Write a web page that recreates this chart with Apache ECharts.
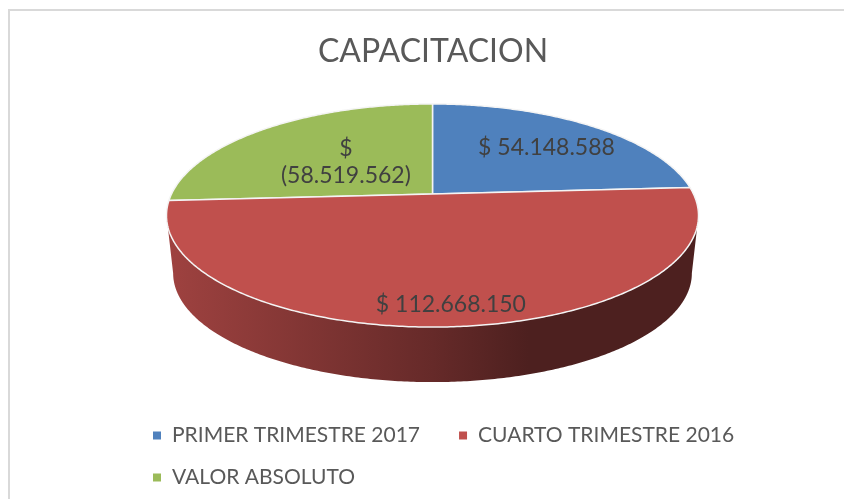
<!DOCTYPE html>
<html>
<head>
<meta charset="utf-8">
<style>
  html, body { margin: 0; padding: 0; background: #fff; }
  #chart { width: 844px; height: 499px; }
</style>
<script src="https://cdn.jsdelivr.net/npm/echarts@6/dist/echarts.min.js"></script>
</head>
<body>
<div id="chart"></div>
<script>
const categories = ['PRIMER TRIMESTRE 2017', 'CUARTO TRIMESTRE 2016', 'VALOR ABSOLUTO']
const values = [54148588, 112668150, -58519562]
const colors = ['#4F81BD', '#C0504D', '#9BBB59']

const chart = echarts.init(document.getElementById('chart'))

const FONT = 'Lato, "Open Sans", sans-serif'
const total = values.reduce((sum, v) => sum + Math.abs(v), 0)

// 3D pie: perspective projection of a disc, angles run clockwise from 12 o'clock
const cx = 432.5
const apexY = 194
const scaleX = 261
const scaleY = 107.4
const tilt = 0.193
const midY = 215.5
const depth = 57.8
const bottomScale = 0.975

// where each label sits inside its slice
const labelRadius = [0.7, 0.86, 0.485]
const labelShiftY = [3, 0, 2]

const project = (t, r) => {
  const x = r * Math.sin(t)
  const y = -r * Math.cos(t)
  const w = 1 - tilt * y
  return [cx + scaleX * x / w, apexY + scaleY * y / w]
}

const projectBottom = (t) => {
  const p = project(t, 1)
  return [cx + (p[0] - cx) * bottomScale, midY + (p[1] - midY) * bottomScale + depth]
}

const arcPoints = (from, to, fn) => {
  const steps = Math.max(2, Math.ceil((to - from) / 0.01))
  const pts = []
  for (let i = 0; i <= steps; i++) {
    pts.push(fn(from + (to - from) * i / steps))
  }
  return pts
}

const shade = (hex, k) => {
  const n = parseInt(hex.slice(1), 16)
  const c = [n >> 16, (n >> 8) & 255, n & 255].map(v => Math.round(v * k))
  return `rgb(${c[0]},${c[1]},${c[2]})`
}

// angles where the rim is visible
const frontFrom = Math.acos(-tilt)
const frontTo = 2 * Math.PI - frontFrom

const formatValue = (v) => {
  const text = Math.abs(v).toString().replace(/\B(?=(\d{3})+$)/g, '.')
  return v < 0 ? `$\n(${text})` : `$ ${text}`
}

const makeSeries = (name, index) => {
  const before = values.slice(0, index).reduce((sum, v) => sum + Math.abs(v), 0)
  return {
    name,
    type: 'custom',
    coordinateSystem: 'none',
    silent: true,
    clip: false,
    z: index === 1 ? 3 : 2,
    itemStyle: { color: colors[index] },
    data: [[Math.abs(values[index])]],
    renderItem: (params, api) => {
      const start = before / total * 2 * Math.PI
      const end = start + api.value(0) / total * 2 * Math.PI
      const children = []

      const sideFrom = Math.max(start, frontFrom)
      const sideTo = Math.min(end, frontTo)
      if (sideTo > sideFrom) {
        children.push({
          type: 'polygon',
          shape: {
            points: arcPoints(sideFrom, sideTo, t => project(t, 1))
              .concat(arcPoints(sideFrom, sideTo, projectBottom).reverse())
          },
          style: {
            fill: new echarts.graphic.LinearGradient(0, 0, 1, 0, [
              { offset: 0, color: shade(colors[index], 0.83) },
              { offset: 0.5, color: shade(colors[index], 0.53) },
              { offset: 0.68, color: shade(colors[index], 0.4) },
              { offset: 1, color: shade(colors[index], 0.4) }
            ])
          }
        })
      }

      children.push({
        type: 'polygon',
        shape: {
          points: [[cx, apexY]].concat(arcPoints(start, end, t => project(t, 1)))
        },
        style: {
          fill: colors[index],
          stroke: '#f4f4f4',
          lineWidth: 1.5,
          lineJoin: 'round'
        }
      })

      const labelPos = project((start + end) / 2, labelRadius[index])
      children.push({
        type: 'text',
        z2: 10,
        x: labelPos[0] + (index === 1 ? 2 : 0),
        y: labelPos[1] + labelShiftY[index],
        style: {
          text: formatValue(values[index]),
          fill: '#404040',
          font: `23px ${FONT}`,
          lineHeight: 27,
          align: 'center',
          verticalAlign: 'middle'
        }
      })

      return { type: 'group', children }
    }
  }
}

const legendBase = {
  orient: 'horizontal',
  icon: 'rect',
  itemWidth: 8,
  itemHeight: 8,
  itemGap: 39,
  padding: 0,
  selectedMode: false,
  textStyle: {
    color: '#595959',
    fontSize: 21,
    fontFamily: FONT,
    padding: [0, 0, 0, 6]
  }
}

chart.setOption({
  animation: false,
  backgroundColor: '#fff',
  title: {
    text: 'CAPACITACION',
    left: 428,
    top: 47,
    textAlign: 'center',
    textVerticalAlign: 'middle',
    textStyle: {
      color: '#595959',
      fontSize: 32,
      fontWeight: 'normal',
      fontFamily: FONT
    }
  },
  legend: [
    Object.assign({}, legendBase, { data: categories.slice(0, 2), left: 153, top: 425 }),
    Object.assign({}, legendBase, { data: categories.slice(2), left: 153, top: 467 })
  ],
  graphic: [
    { type: 'rect', shape: { x: 8, y: 9, width: 844, height: 2 }, style: { fill: '#d9d9d9' }, silent: true },
    { type: 'rect', shape: { x: 8, y: 9, width: 2, height: 490 }, style: { fill: '#d9d9d9' }, silent: true }
  ],
  series: categories.map(makeSeries)
})

window.addEventListener('resize', () => chart.resize())
</script>
</body>
</html>
